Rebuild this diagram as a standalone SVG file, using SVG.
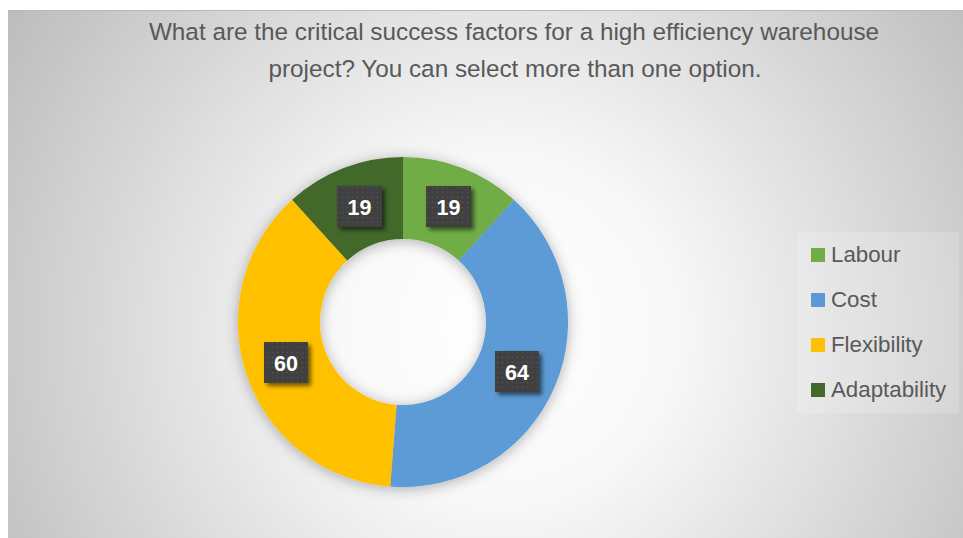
<svg xmlns="http://www.w3.org/2000/svg" width="963" height="538" viewBox="0 0 963 538">
  <defs>
    <radialGradient id="bg" gradientUnits="userSpaceOnUse" cx="500" cy="330" r="580">
      <stop offset="0" stop-color="#ffffff"/>
      <stop offset="0.3" stop-color="#f8f8f8"/>
      <stop offset="1" stop-color="#bdbdbd"/>
    </radialGradient>
    <pattern id="dots" width="5" height="5" patternUnits="userSpaceOnUse">
      <rect width="5" height="5" fill="#404040"/>
      <circle cx="2.5" cy="2.5" r="0.8" fill="#555555"/>
    </pattern>
    <filter id="ringShadow" x="-30%" y="-30%" width="160%" height="160%">
      <feDropShadow dx="0" dy="2" stdDeviation="7" flood-color="#000000" flood-opacity="0.3"/>
    </filter>
    <filter id="boxShadow" x="-30%" y="-30%" width="160%" height="160%">
      <feDropShadow dx="3" dy="3" stdDeviation="2" flood-color="#000000" flood-opacity="0.55"/>
    </filter>
    <style>
      .title { font-family: "Liberation Sans", Arial, sans-serif; font-size: 24.3px; fill: #595959; text-anchor: middle; }
      .lbl { font-family: "Liberation Sans", Arial, sans-serif; font-size: 21.5px; font-weight: bold; fill: #ffffff; text-anchor: middle; }
      .box { fill: url(#dots); filter: url(#boxShadow); }
      .leg { font-family: "Liberation Sans", Arial, sans-serif; font-size: 22.3px; fill: #595959; }
    </style>
  </defs>

  <rect x="0" y="0" width="963" height="538" fill="#ffffff"/>
  <rect x="8" y="10" width="955" height="528" fill="url(#bg)"/>
  <line x1="8" y1="10.5" x2="963" y2="10.5" stroke="#b8b8b8" stroke-width="1"/>

  <g id="title">
    <text class="title" x="514" y="40">What are the critical success factors for a high efficiency warehouse</text>
    <text class="title" x="515" y="77">project? You can select more than one option.</text>
  </g>

  <g id="donut" filter="url(#ringShadow)">
    <g id="seg-labour">
      <path d="M 403 157 A 165 165 0 0 1 513.88 199.8 L 458.78 260.53 A 83 83 0 0 0 403 239 Z" fill="#70AD47"/>
    </g>
    <g id="seg-cost">
      <path d="M 513.88 199.8 A 165 165 0 0 1 390.23 486.5 L 396.58 404.75 A 83 83 0 0 0 458.78 260.53 Z" fill="#5B9BD5"/>
    </g>
    <g id="seg-flexibility">
      <path d="M 390.23 486.5 A 165 165 0 0 1 292.12 199.8 L 347.22 260.53 A 83 83 0 0 0 396.58 404.75 Z" fill="#FFC000"/>
    </g>
    <g id="seg-adaptability">
      <path d="M 292.12 199.8 A 165 165 0 0 1 403 157 L 403 239 A 83 83 0 0 0 347.22 260.53 Z" fill="#43682B"/>
    </g>
  </g>

  <g id="label-adaptability">
    <rect class="box" x="337" y="186" width="45" height="41"/>
    <text class="lbl" x="359.5" y="214.5">19</text>
  </g>
  <g id="label-labour">
    <rect class="box" x="426" y="186" width="45" height="41"/>
    <text class="lbl" x="448.5" y="214.5">19</text>
  </g>
  <g id="label-flexibility">
    <rect class="box" x="264" y="342" width="44" height="41"/>
    <text class="lbl" x="286" y="370.5">60</text>
  </g>
  <g id="label-cost">
    <rect class="box" x="495" y="351" width="44" height="41"/>
    <text class="lbl" x="517" y="379.5">64</text>
  </g>

  <g id="legend">
    <rect x="797" y="232" width="162" height="181" fill="#ffffff" fill-opacity="0.18"/>
    <rect x="811" y="248" width="14" height="14" fill="#70AD47"/>
    <text class="leg" x="831" y="262">Labour</text>
    <rect x="811" y="293" width="14" height="14" fill="#5B9BD5"/>
    <text class="leg" x="831" y="307">Cost</text>
    <rect x="811" y="338" width="14" height="14" fill="#FFC000"/>
    <text class="leg" x="831" y="352">Flexibility</text>
    <rect x="811" y="383" width="14" height="14" fill="#43682B"/>
    <text class="leg" x="831" y="397">Adaptability</text>
  </g>
</svg>
